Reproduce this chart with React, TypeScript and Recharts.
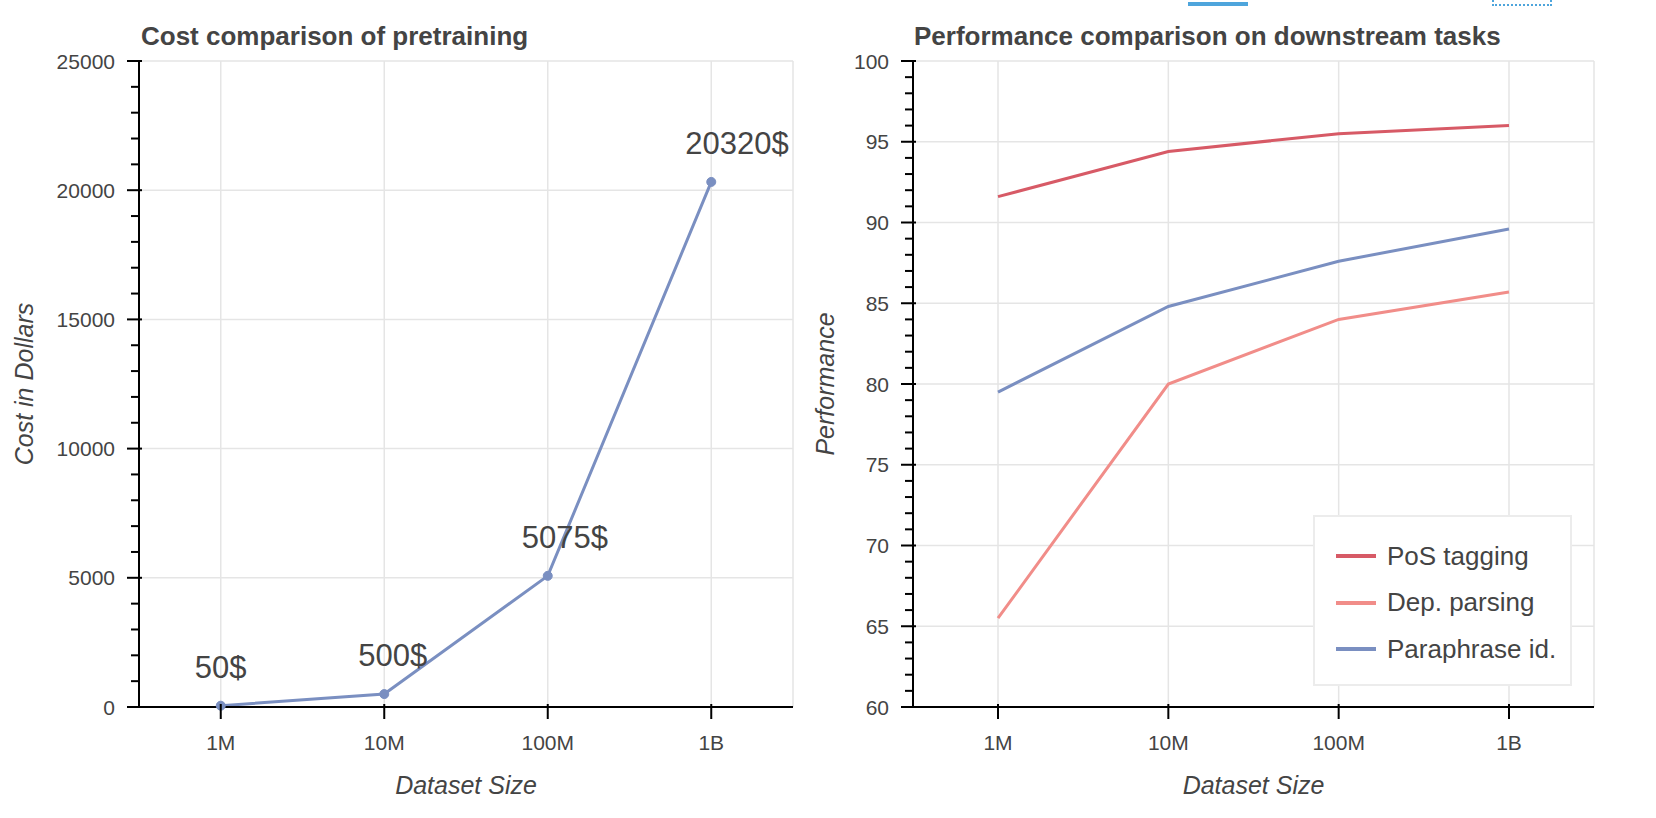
import React from 'react';
import {
  CartesianGrid,
  LabelList,
  Legend,
  Line,
  LineChart,
  XAxis,
  YAxis,
} from 'recharts';

const sizes = ['1M', '10M', '100M', '1B'];
const costs = [50, 500, 5075, 20320];
const posTagging = [91.6, 94.4, 95.5, 96.0];
const depParsing = [65.5, 80.0, 84.0, 85.7];
const paraphraseId = [79.5, 84.8, 87.6, 89.6];

const costMajor = [0, 5000, 10000, 15000, 20000, 25000];
const perfMajor = [60, 65, 70, 75, 80, 85, 90, 95, 100];

// five minor steps between each pair of major ticks
const withMinor = (major: number[]) => {
  const step = (major[1] - major[0]) / 5;
  const out: number[] = [];
  for (let v = major[0]; v <= major[major.length - 1] + 1e-9; v += step) {
    out.push(Math.round(v * 1000) / 1000);
  }
  return out;
};

const costData = sizes.map((size, i) => ({ size, cost: costs[i] }));
const perfData = sizes.map((size, i) => ({
  size,
  pos: posTagging[i],
  dep: depParsing[i],
  para: paraphraseId[i],
}));

const series = [
  { key: 'pos', name: 'PoS tagging', color: '#d75a66' },
  { key: 'dep', name: 'Dep. parsing', color: '#f18d89' },
  { key: 'para', name: 'Paraphrase id.', color: '#7a8fc1' },
];

const FONT = '"Liberation Sans", Arial, Helvetica, sans-serif';
const TEXT = '#444444';
const GRID = '#e5e5e5';
const BLUE = '#7a8fc1';

const YTick = (props: any) => {
  const { x, y, payload, major } = props;
  const isMajor = major.includes(payload.value);
  return (
    <g>
      <line
        x1={isMajor ? x - 12 : x - 8}
        x2={isMajor ? x + 3 : x}
        y1={y}
        y2={y}
        stroke='#000'
        strokeWidth={2}
      />
      {isMajor && (
        <text
          x={x - 24}
          y={y + 7.5}
          textAnchor='end'
          fill={TEXT}
          fontSize={21}
          fontFamily={FONT}
        >
          {payload.value}
        </text>
      )}
    </g>
  );
};

const XTick = (props: any) => {
  const { x, y, payload } = props;
  return (
    <g>
      <line x1={x} x2={x} y1={y - 3} y2={y + 12} stroke='#000' strokeWidth={2} />
      <text
        x={x}
        y={y + 43}
        textAnchor='middle'
        fill={TEXT}
        fontSize={21}
        fontFamily={FONT}
      >
        {payload.value}
      </text>
    </g>
  );
};

const CostLabel = (props: any) => {
  const { x, y, value } = props;
  return (
    <text
      x={Number(x) - 26}
      y={Number(y) - 28}
      fill={TEXT}
      fontSize={31}
      fontFamily={FONT}
    >
      {value}$
    </text>
  );
};

const LegendBox = (props: any) => {
  const items = [...(props.payload ?? [])].sort(
    (a: any, b: any) =>
      series.findIndex((s) => s.name === a.value) -
      series.findIndex((s) => s.name === b.value),
  );
  return (
    <div
      style={{
        boxSizing: 'border-box',
        width: 259,
        height: 171,
        padding: '16px 0 0 21px',
        background: '#fff',
        border: '2px solid #ececec',
        fontFamily: FONT,
      }}
    >
      {items.map((item: any) => (
        <div
          key={item.value}
          style={{ height: 46.5, display: 'flex', alignItems: 'center' }}
        >
          <span
            style={{
              display: 'inline-block',
              width: 40,
              height: 4,
              background: item.color,
              marginRight: 11,
            }}
          />
          <span style={{ fontSize: 26, color: TEXT }}>{item.value}</span>
        </div>
      ))}
    </div>
  );
};

const CostChart = () => (
  <LineChart
    width={800}
    height={818}
    data={costData}
    margin={{ top: 61, right: 7, bottom: 51, left: 39 }}
  >
    <CartesianGrid stroke={GRID} strokeWidth={1.5} horizontalValues={costMajor} />
    <XAxis
      dataKey='size'
      height={60}
      padding={{ left: 81.75, right: 81.75 }}
      axisLine={{ stroke: '#000', strokeWidth: 2 }}
      tickLine={false}
      tickSize={0}
      tickMargin={0}
      interval={0}
      tick={(p: any) => <XTick {...p} />}
    />
    <YAxis
      width={100}
      type='number'
      domain={[0, 25000]}
      ticks={withMinor(costMajor)}
      interval={0}
      axisLine={{ stroke: '#000', strokeWidth: 2 }}
      tickLine={false}
      tickSize={0}
      tickMargin={0}
      tick={(p: any) => <YTick {...p} major={costMajor} />}
    />
    <YAxis
      yAxisId='frame'
      orientation='right'
      width={0}
      domain={[0, 25000]}
      tick={false}
      tickLine={false}
      axisLine={{ stroke: GRID, strokeWidth: 1.5 }}
    />
    <Line
      dataKey='cost'
      stroke={BLUE}
      strokeWidth={3}
      dot={{ r: 4.5, fill: BLUE, stroke: BLUE, strokeWidth: 1 }}
      activeDot={false}
      isAnimationActive={false}
    >
      <LabelList dataKey='cost' content={(p: any) => <CostLabel {...p} />} />
    </Line>
  </LineChart>
);

const PerfChart = () => (
  <LineChart
    width={844}
    height={818}
    data={perfData}
    margin={{ top: 61, right: 62, bottom: 51, left: 1 }}
  >
    <CartesianGrid stroke={GRID} strokeWidth={1.5} horizontalValues={perfMajor} />
    <XAxis
      dataKey='size'
      height={60}
      padding={{ left: 85, right: 85 }}
      axisLine={{ stroke: '#000', strokeWidth: 2 }}
      tickLine={false}
      tickSize={0}
      tickMargin={0}
      interval={0}
      tick={(p: any) => <XTick {...p} />}
    />
    <YAxis
      width={100}
      type='number'
      domain={[60, 100]}
      ticks={withMinor(perfMajor)}
      interval={0}
      axisLine={{ stroke: '#000', strokeWidth: 2 }}
      tickLine={false}
      tickSize={0}
      tickMargin={0}
      tick={(p: any) => <YTick {...p} major={perfMajor} />}
    />
    <YAxis
      yAxisId='frame'
      orientation='right'
      width={0}
      domain={[60, 100]}
      tick={false}
      tickLine={false}
      axisLine={{ stroke: GRID, strokeWidth: 1.5 }}
    />
    {series.map((s) => (
      <Line
        key={s.key}
        dataKey={s.key}
        name={s.name}
        stroke={s.color}
        strokeWidth={3}
        dot={false}
        activeDot={false}
        isAnimationActive={false}
      />
    ))}
    <Legend
      layout='vertical'
      align='center'
      verticalAlign='middle'
      wrapperStyle={{ left: 501, top: 515, width: 259, height: 171 }}
      content={(p: any) => <LegendBox {...p} />}
    />
  </LineChart>
);

const App = () => {
  const title = { fontFamily: FONT, fontSize: 26, fontWeight: 'bold', fill: TEXT };
  const axisLabel = { fontFamily: FONT, fontSize: 25, fontStyle: 'italic', fill: TEXT };
  return (
    <div
      style={{
        position: 'absolute',
        left: 0,
        top: 0,
        width: 1656,
        height: 818,
        background: '#fff',
        overflow: 'hidden',
      }}
    >
      <div style={{ position: 'absolute', left: 0, top: 0 }}>
        <CostChart />
      </div>
      <div style={{ position: 'absolute', left: 812, top: 0 }}>
        <PerfChart />
      </div>
      <svg
        width={1656}
        height={818}
        style={{ position: 'absolute', left: 0, top: 0, pointerEvents: 'none' }}
      >
        <text x={141} y={45} style={title}>
          Cost comparison of pretraining
        </text>
        <text x={914} y={45} style={title}>
          Performance comparison on downstream tasks
        </text>
        <text x={466} y={794} textAnchor='middle' style={axisLabel}>
          Dataset Size
        </text>
        <text x={1253.5} y={794} textAnchor='middle' style={axisLabel}>
          Dataset Size
        </text>
        <text
          x={33}
          y={384}
          textAnchor='middle'
          transform='rotate(-90 33 384)'
          style={axisLabel}
        >
          Cost in Dollars
        </text>
        <text
          x={834}
          y={384}
          textAnchor='middle'
          transform='rotate(-90 834 384)'
          style={axisLabel}
        >
          Performance
        </text>
      </svg>
      {/* toolbar remnants at the top edge */}
      <div
        style={{
          position: 'absolute',
          left: 1188,
          top: 2,
          width: 60,
          height: 4,
          background: '#4ea5dc',
        }}
      />
      <div
        style={{
          position: 'absolute',
          left: 1492,
          top: -20,
          width: 60,
          height: 26,
          boxSizing: 'border-box',
          border: '2px dotted #4ea5dc',
        }}
      />
    </div>
  );
};

export default App;
